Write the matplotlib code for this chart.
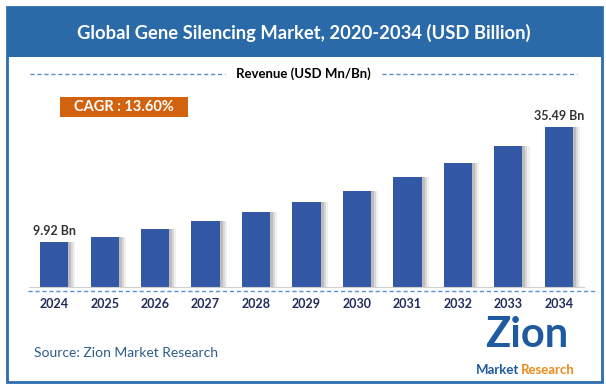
import matplotlib
matplotlib.use("Agg")
import matplotlib.pyplot as plt
from matplotlib.patches import Rectangle
from matplotlib.lines import Line2D

years = ['2024', '2025', '2026', '2027', '2028', '2029', '2030', '2031', '2032', '2033', '2034']
revenue = [9.92, 11.2, 12.8, 14.6, 16.6, 18.8, 21.3, 24.3, 27.5, 31.3, 35.49]
labels = {0: '9.92 Bn', 10: '35.49 Bn'}

title = 'Global Gene Silencing Market, 2020-2034 (USD Billion)'
legend_txt = 'Revenue (USD Mn/Bn)'
cagr_txt = 'CAGR : 13.60%'
source_txt = 'Source: Zion Market Research'

plt.rcParams['font.family'] = ['Lato', 'DejaVu Sans']

W, H = 606, 386
fig = plt.figure(figsize=(W / 100, H / 100), dpi=100)

# pixel coords (from top-left) -> figure fraction
def fx(x):
    return x / W

def fy(y):
    return 1 - y / H

# outer frame
fig.patches.append(Rectangle((fx(7), fy(382)), fx(595), (375) / H, transform=fig.transFigure,
                             fill=False, edgecolor='#2e6db0', lw=2))
# title banner
fig.patches.append(Rectangle((fx(7), fy(57)), fx(595), 50 / H, transform=fig.transFigure,
                             facecolor='#2a6aa8', edgecolor='none'))
fig.text(fx(304), fy(33), title, color='white', fontsize=13.2, fontweight='bold',
         ha='center', va='center')

# legend line
fig.add_artist(Line2D([fx(30), fx(225)], [fy(74), fy(74)], transform=fig.transFigure,
                      color='#5b8fd0', lw=1, ls=(0, (3, 2))))
fig.add_artist(Line2D([fx(382), fx(577)], [fy(74), fy(74)], transform=fig.transFigure,
                      color='#5b8fd0', lw=1, ls=(0, (3, 2))))
fig.text(fx(303), fy(74), legend_txt, color='black', fontsize=9.5, fontweight='bold',
         ha='center', va='center')

# CAGR box
fig.patches.append(Rectangle((fx(60), fy(117)), 128 / W, 20 / H, transform=fig.transFigure,
                             facecolor='#d2620e', edgecolor='none'))
fig.text(fx(124), fy(107), cagr_txt, color='white', fontsize=10.5, fontweight='bold',
         ha='center', va='center')

# bar axes
ax_h = 160 * 40 / 35.49
ax = fig.add_axes([fx(29), fy(287), (584 - 29) / W, ax_h / H])
x = list(range(len(years)))
for k, a in [(0.06, 0.35), (0.10, 0.22), (0.14, 0.12)]:
    ax.bar([i + k for i in x], revenue, width=0.56, color='#8a8a8a', alpha=a, zorder=1)
ax.bar(x, revenue, width=0.56, color='#3358a6', zorder=2)
ax.set_xlim(-0.5, len(years) - 0.5)
ax.set_ylim(0, 40)
ax.set_yticks([])
ax.set_xticks(x)
ax.set_xticklabels(years, fontsize=9, fontweight='bold', color='#1f2d5a')
ax.tick_params(axis='x', length=0, pad=8)
for s in ['top', 'right', 'left']:
    ax.spines[s].set_visible(False)
ax.spines['bottom'].set_color('#d0d0d0')
ax.patch.set_alpha(0)
for i, t in labels.items():
    ax.text(i, revenue[i] + 1.2, t, ha='center', va='bottom', fontsize=9,
            fontweight='bold', color='#333333')

# blue dashed baseline
fig.add_artist(Line2D([fx(28), fx(596)], [fy(291), fy(291)], transform=fig.transFigure,
                      color='#5b8fd0', lw=1, ls=(0, (3, 2))))

# source
fig.text(fx(34), fy(353), source_txt, color='#2e5c8a', fontsize=10, ha='left', va='center')

# logo
fig.text(fx(527), fy(335), 'Zion', color='#1f5aa0', fontsize=30, fontweight='bold',
         ha='center', va='center')
fig.text(fx(519), fy(370), 'Market', color='#1f5aa0', fontsize=9.5, fontweight='bold',
         ha='right', va='center')
fig.text(fx(521), fy(370), 'Research', color='#e98a1a', fontsize=9.5, fontweight='bold',
         ha='left', va='center')

fig.savefig('out.png', dpi=100)
